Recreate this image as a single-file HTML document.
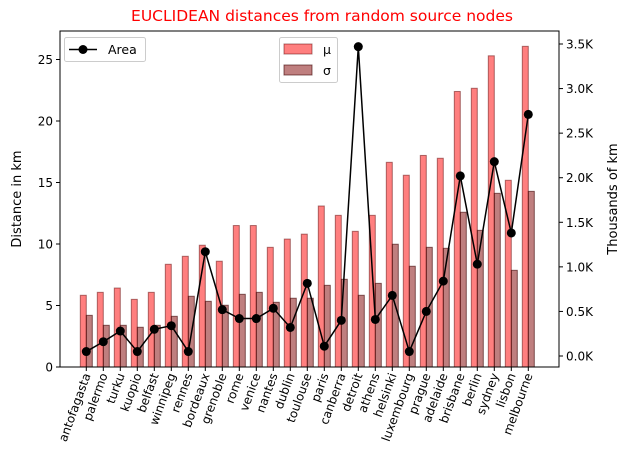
<!DOCTYPE html>
<html><head><meta charset="utf-8"><style>
html,body{margin:0;padding:0;background:#fff;}
svg{display:block;font-family:"DejaVu Sans","Liberation Sans",sans-serif;}
</style></head><body>
<svg id="chart" width="630" height="470" viewBox="0 0 630 470">
<rect width="630" height="470" fill="#fff"/>
<text x="322" y="21" font-size="15.5" fill="#ff0000" text-anchor="middle">EUCLIDEAN distances from random source nodes</text>
<g id="bars"></g><g id="line"></g><g id="axes"></g>
</svg>
<script>
const cities=["antofagasta","palermo","turku","kuopio","belfast","winnipeg","rennes","bordeaux","grenoble","rome","venice","nantes","dublin","toulouse","paris","canberra","detroit","athens","helsinki","luxembourg","prague","adelaide","brisbane","berlin","sydney","lisbon","melbourne"];
const muValues=[5.83,6.07,6.42,5.5,6.07,8.35,9.0,9.9,8.6,11.5,11.5,9.73,10.4,10.8,13.09,12.33,11.03,12.33,16.64,15.59,17.2,16.97,22.4,22.66,25.3,15.18,26.07];
const sigmaValues=[4.2,3.39,3.39,3.23,3.39,4.12,5.75,5.34,5.02,5.91,6.07,5.26,5.59,5.59,6.64,7.13,5.83,6.8,9.98,8.19,9.73,9.65,12.58,11.11,14.12,7.86,14.28];
const areaValues=[0.05,0.16,0.28,0.05,0.30,0.34,0.05,1.17,0.52,0.42,0.42,0.535,0.32,0.815,0.11,0.40,3.47,0.41,0.68,0.05,0.50,0.84,2.02,1.03,2.18,1.38,2.71];
const leftTicks=[0,5,10,15,20,25];
const rightTicks=[0,0.5,1,1.5,2,2.5,3,3.5];
const NS="http://www.w3.org/2000/svg";
const L=60,R=559,T=31,B=367;
const xs=i=>86.3+17*i;
const yl=v=>367-12.3*v;
const yr=v=>356-89.14*v;
function mk(tag,attrs,parent){const e=document.createElementNS(NS,tag);for(const k in attrs)e.setAttribute(k,attrs[k]);parent.appendChild(e);return e;}
const bars=document.getElementById('bars'),line=document.getElementById('line'),axes=document.getElementById('axes');
const bw=6;
cities.forEach((c,i)=>{
  let r=mk('rect',{x:xs(i)-bw,y:yl(muValues[i]),width:bw,height:B-yl(muValues[i]),fill:'rgba(255,0,0,0.5)',stroke:'rgba(90,0,0,0.5)','stroke-width':1},bars);
  
  
  let s=mk('rect',{x:xs(i),y:yl(sigmaValues[i]),width:bw,height:B-yl(sigmaValues[i]),fill:'rgba(128,0,0,0.5)',stroke:'rgba(60,0,0,0.6)','stroke-width':1},bars);
  
  
});
let pts=areaValues.map((v,i)=>xs(i)+','+yr(v)).join(' ');
let pl=mk('polyline',{points:pts,fill:'none',stroke:'#000','stroke-width':1.5},line);


areaValues.forEach((v,i)=>{
  let c=mk('circle',{cx:xs(i),cy:yr(v),r:4.5,fill:'#000'},line);
  
  
});
let fr=mk('rect',{x:L,y:T,width:R-L,height:B-T,fill:'none',stroke:'#000','stroke-width':1},axes);


leftTicks.forEach(v=>{
  mk('line',{x1:L-4,x2:L,y1:yl(v),y2:yl(v),stroke:'#000'},axes);
  let t=mk('text',{x:L-7,y:yl(v)+4.5,'font-size':12,'text-anchor':'end',fill:'#000'},axes);
  t.textContent=v;
  
  
});
rightTicks.forEach(v=>{
  mk('line',{x1:R,x2:R+4,y1:yr(v),y2:yr(v),stroke:'#000'},axes);
  let t=mk('text',{x:R+7,y:yr(v)+4.5,'font-size':12,fill:'#000'},axes);
  t.textContent=v.toFixed(1)+'K';
  
  
});
cities.forEach((c,i)=>{
  mk('line',{x1:xs(i),x2:xs(i),y1:B,y2:B+4,stroke:'#000'},axes);
  let t=mk('text',{x:0,y:0,'font-size':12,'text-anchor':'end',fill:'#000',transform:`translate(${xs(i)+4.5},${B+8}) rotate(-70)`},axes);
  t.textContent=c;
  
  
});
let yt=mk('text',{x:0,y:0,'font-size':13,'text-anchor':'middle',transform:'translate(21,199) rotate(-90)'},axes);
yt.textContent='Distance in km';


let yt2=mk('text',{x:0,y:0,'font-size':13,'text-anchor':'middle',transform:'translate(617,199) rotate(-90)'},axes);
yt2.textContent='Thousands of km';


let lg1=mk('g',{},axes);


mk('rect',{x:64.5,y:37.5,width:81,height:24,rx:2,fill:'#fff',stroke:'#ccc'},lg1);
mk('line',{x1:69,x2:97,y1:49.5,y2:49.5,stroke:'#000','stroke-width':1.5},lg1);
mk('circle',{cx:83,cy:49.5,r:4.5,fill:'#000'},lg1);
let lt=mk('text',{x:108,y:54,'font-size':12.5},lg1);lt.textContent='Area';
let lg2=mk('g',{},axes);


mk('rect',{x:279.5,y:37.5,width:58,height:45,rx:2,fill:'#fff',stroke:'#ccc'},lg2);
mk('rect',{x:284,y:44,width:28,height:10,fill:'rgba(255,0,0,0.5)',stroke:'rgba(90,0,0,0.5)'},lg2);
mk('rect',{x:284,y:65,width:28,height:10,fill:'rgba(128,0,0,0.5)',stroke:'rgba(60,0,0,0.6)'},lg2);
let m1=mk('text',{x:323,y:54,'font-size':12.5},lg2);m1.textContent='μ';
let m2=mk('text',{x:323,y:75,'font-size':12.5},lg2);m2.textContent='σ';
</script>
</body></html>
